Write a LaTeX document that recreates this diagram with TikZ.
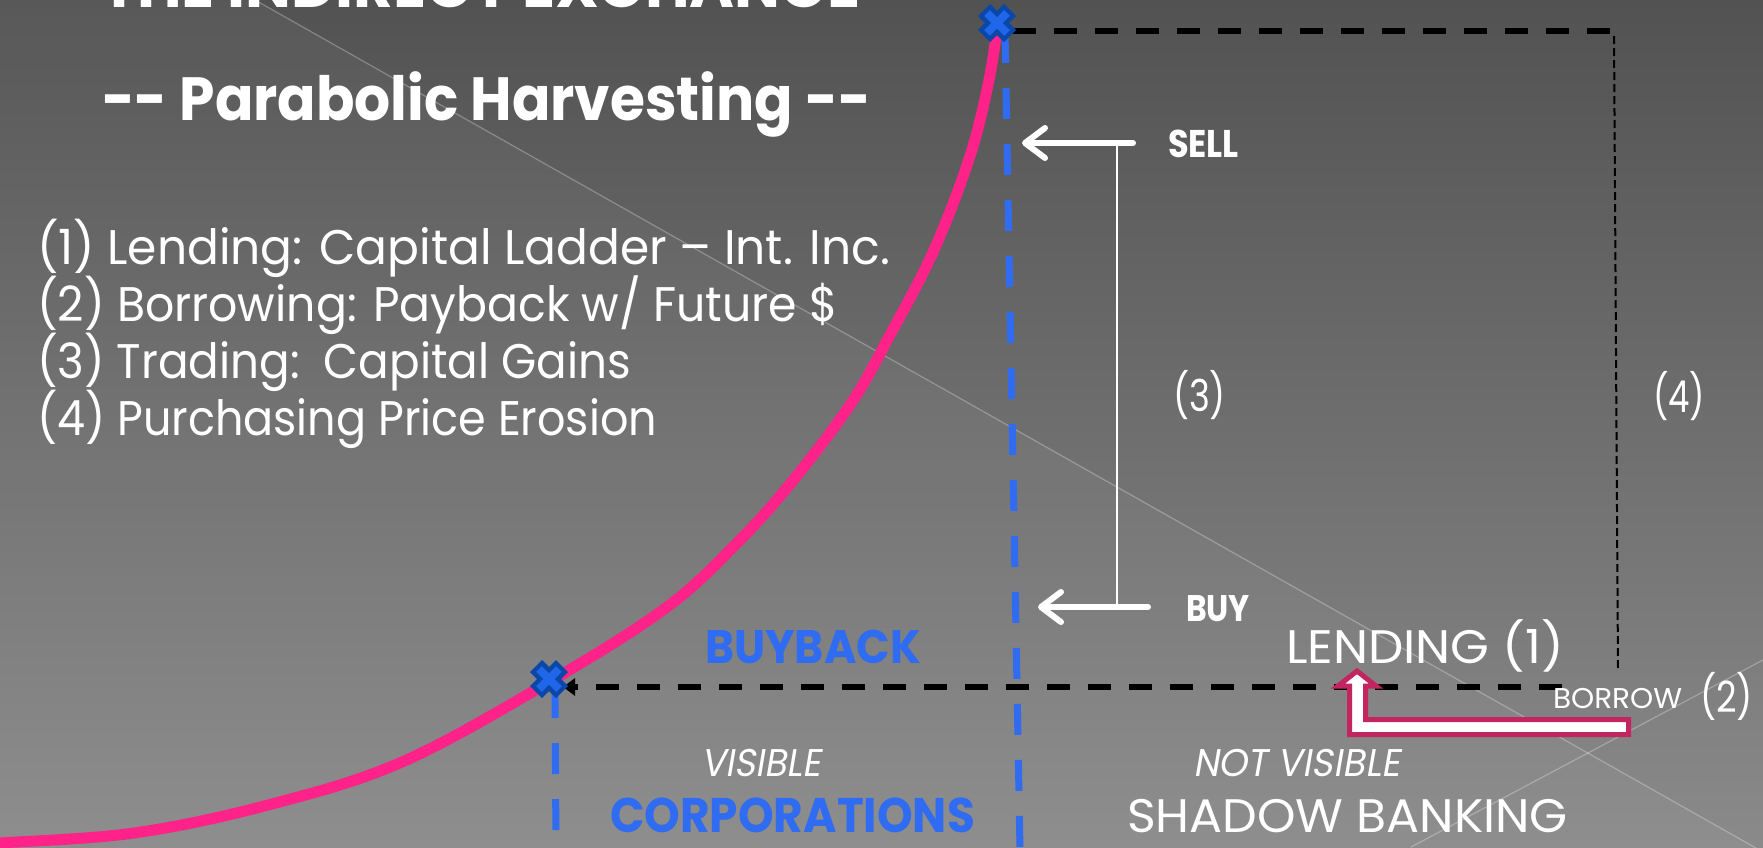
\documentclass[tikz,border=0pt]{standalone}
\usepackage{fontspec}
\setmainfont{Poppins}
\newfontfamily\slantfont[FakeSlant=0.18]{Poppins}
\usetikzlibrary{arrows.meta}
\definecolor{bgtop}{HTML}{525252}
\definecolor{bgbot}{HTML}{8A8A8A}
\definecolor{ablue}{HTML}{2F6CF2}
\definecolor{xdark}{HTML}{0A47A8}
\definecolor{xlight}{HTML}{1F66E8}
\definecolor{curvepink}{HTML}{FF2288}
\definecolor{arrpink}{HTML}{C2255F}
\newcommand{\fitw}[2]{\resizebox{#1pt}{\height}{#2}}
\begin{document}
\begin{tikzpicture}[x=1pt,y=-1pt,
  txt/.style={inner sep=0pt, outer sep=0pt, anchor=base west, text=white},
  bluedash/.style={draw=ablue, line width=7pt, dash pattern=on 31pt off 25pt},
  blackdash/.style={draw=black, line width=5.5pt, dash pattern=on 23pt off 18pt},
  thindash/.style={draw=black, line width=2pt, dash pattern=on 8pt off 4pt},
  whitearrow/.style={draw=white, line width=6pt, line cap=round, -{Straight Barb[length=20pt,width=30pt,round]}},
  bgline/.style={draw=white, draw opacity=0.28, line width=1.2pt},
  xmark/.pic={
    \draw[xdark, line width=17pt] (-13,-13) -- (13,13) (-13,13) -- (13,-13);
    \draw[xlight, line width=8pt] (-10,-10) -- (10,10) (-10,10) -- (10,-10);
  }]
\useasboundingbox (0,0) rectangle (1763,847);
\clip (0,0) rectangle (1763,847);
% background
\shade[top color=bgtop, bottom color=bgbot] (0,0) rectangle (1763,847);
\fill[white, opacity=0.035] (0,0) -- (255,0) -- (1763,852) -- (0,852) -- cycle;
\draw[bgline] (255,0) -- (1763,852);
\draw[bgline] (1411,847) -- (1763,660);

% key coordinates
\coordinate (xtop) at (997,23);
\coordinate (xbot) at (549,679);
\coordinate (vtopA) at (1005,32);
\coordinate (vtopB) at (1020,850);
\coordinate (vlowA) at (555,687);
\coordinate (vlowB) at (556,850);
\coordinate (hTopL) at (1013,31);
\coordinate (hTopR) at (1614,31);
\coordinate (rTop) at (1614,36);
\coordinate (rBot) at (1618,671);
\coordinate (hLowR) at (1562,687);
\coordinate (hLowL) at (563,687);
\coordinate (sellTail) at (1133,143);
\coordinate (sellTip) at (1022,143);
\coordinate (buyTail) at (1148,607);
\coordinate (buyTip) at (1038,607);
\coordinate (brTop) at (1117,143);
\coordinate (brBot) at (1117,607);

% dashed guide lines
\draw[bluedash] (vtopA) -- (vtopB);
\draw[bluedash] (vlowA) -- (vlowB);
\draw[blackdash] (hTopL) -- (hTopR);
\draw[thindash] (rTop) -- (rBot);
\draw[blackdash, -{Triangle[length=12pt,width=17pt]}] (hLowR) -- (hLowL);

% parabolic curve
\draw[curvepink, line width=11pt] plot[smooth, tension=0.6] coordinates {
  (-10,844) (0,843) (134,833) (268,805) (402,762) (549,682) (667,607) (740,540)
  (795,478) (852,402) (890,335) (934,250) (970,156) (989,80) (997,28)};

% markers
\pic at (xtop) {xmark};
\pic at (xbot) {xmark};

% sell / buy arrows
\draw[white, line width=2pt] (brTop) -- (brBot);
\draw[whitearrow] (sellTail) -- (sellTip);
\draw[whitearrow] (buyTail) -- (buyTip);

% bent-up borrow arrow
\draw[arrpink, fill=white, line width=5pt, line join=miter]
  (1628.5,719.5) -- (1365.5,719.5) -- (1365.5,686) -- (1376,686) -- (1357,671)
  -- (1338,686) -- (1349.5,686) -- (1349.5,734.5) -- (1628.5,734.5) -- cycle;

% texts
\node[txt] (title) at (101,7) {\fontsize{61}{70}\selectfont\bfseries\fitw{759}{THE INDIRECT EXCHANGE}};
\node[txt] (subtitle) at (102,120) {\fontsize{61}{70}\selectfont\bfseries\fitw{769}{-{}- Parabolic Harvesting -{}-}};
\node[txt] (l1) at (37,264) {\fontsize{48.6}{58}\selectfont\fitw{853}{(1) Lending: Capital Ladder – Int. Inc.}};
\node[txt] (l2) at (37,321) {\fontsize{48.6}{58}\selectfont\fitw{801}{(2) Borrowing: Payback w/ Future \$}};
\node[txt] (l3) at (37,378) {\fontsize{48.6}{58}\selectfont\fitw{594}{(3) Trading:\ \ Capital Gains}};
\node[txt] (l4) at (37,435) {\fontsize{48.6}{58}\selectfont\fitw{620}{(4) Purchasing Price Erosion}};
\node[txt] (sell) at (1168,157) {\fontsize{38.6}{46}\selectfont\bfseries\fitw{71}{SELL}};
\node[txt] (buy) at (1186,621) {\fontsize{37}{44}\selectfont\bfseries\fitw{64}{BUY}};
\node[txt] (three) at (1173,411) {\fontsize{44}{52}\selectfont\fitw{53}{(3)}};
\node[txt] (four) at (1653,412) {\fontsize{44}{52}\selectfont\fitw{52}{(4)}};
\node[txt, text=ablue] (buyback) at (705,663) {\fontsize{47}{56}\selectfont\bfseries\fitw{216}{BUYBACK}};
\node[txt] (lending) at (1286,663) {\fontsize{47}{56}\selectfont\fitw{278}{LENDING (1)}};
\node[txt] (borrow) at (1553,708) {\fontsize{28.6}{34}\selectfont\fitw{129}{BORROW}};
\node[txt] (two) at (1700,712) {\fontsize{43}{52}\selectfont\fitw{53}{(2)}};
\node[txt] (visible) at (701,776) {\fontsize{38.6}{46}\selectfont\slantfont\fitw{120}{VISIBLE}};
\node[txt] (notvisible) at (1193,776) {\fontsize{38.6}{46}\selectfont\slantfont\fitw{207}{NOT VISIBLE}};
\node[txt, text=ablue] (corp) at (610,832) {\fontsize{48.6}{58}\selectfont\bfseries\fitw{365}{CORPORATIONS}};
\node[txt] (shadow) at (1127,832) {\fontsize{47}{56}\selectfont\fitw{441}{SHADOW BANKING}};
\end{tikzpicture}
\end{document}
